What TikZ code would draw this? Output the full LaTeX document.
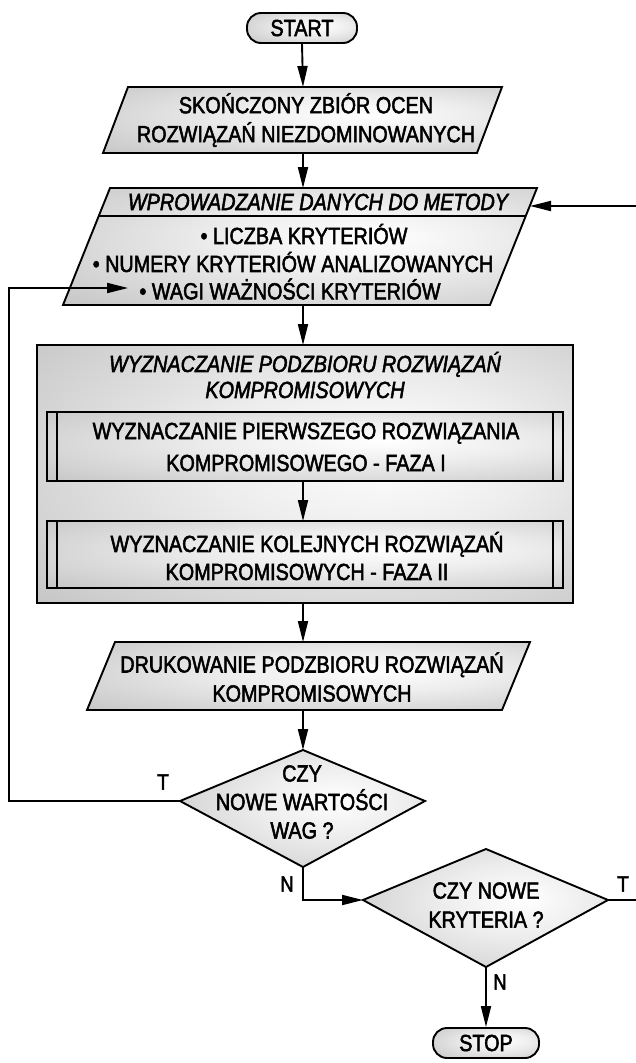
\documentclass[tikz,border=0pt]{standalone}
\usepackage{fontspec}
\setmainfont[FakeStretch=0.85,FakeBold=2.2]{Liberation Sans}
\usetikzlibrary{arrows.meta,calc}
\pgfdeclareradialshading{boxshade}{\pgfpoint{8bp}{4bp}}{color(0bp)=(white); color(15bp)=(white!93!black); color(45bp)=(white!74!black); color(70bp)=(white!66!black)}
\tikzset{
  ln/.style={line width=1.9pt},
  arr/.style={line width=1.9pt, -{Triangle[length=21pt,width=10pt]}},
  shapefill/.style={shading=boxshade, draw=black, line width=1.9pt},
  txt/.style={font=\fontsize{23.3}{29}\selectfont, align=center, inner sep=0pt},
  lbl/.style={font=\fontsize{22}{24}\selectfont, inner sep=0pt},
  term/.style={shapefill, rounded corners=14pt, minimum height=30pt, inner sep=0pt, font=\fontsize{23.3}{28}\selectfont},
}
\begin{document}
\begin{tikzpicture}[x=1pt,y=-1pt]
\useasboundingbox (0,0) rectangle (636,1063);
% START
\node[term, minimum width=110pt] (start) at (302,28) {START};
% para 1
\path[shapefill] (128,87) -- (502,87) -- (477,153) -- (103,153) -- cycle;
\coordinate (p1t) at (303,87);
\coordinate (p1b) at (303,153);
\node[txt] (t1) at (306,120) {SKOŃCZONY ZBIÓR OCEN\\ROZWIĄZAŃ NIEZDOMINOWANYCH};
% para 2
\path[shapefill] (110,188) -- (537,188) -- (490,305) -- (63,305) -- cycle;
\draw[ln] (98.8,216) -- (525.8,216);
\coordinate (p2t) at (303,188);
\coordinate (p2b) at (303,305);
\coordinate (p2r) at (530,206);
\coordinate (loopin) at (128,288);
\node[txt, font=\fontsize{23.3}{29}\selectfont\itshape] (t2h) at (318,202) {WPROWADZANIE DANYCH DO METODY};
\node[txt] (t2a) at (304,234) {• LICZBA KRYTERIÓW};
\node[txt] (t2b) at (293,262) {• NUMERY KRYTERIÓW ANALIZOWANYCH};
\node[txt] (t2c) at (290,289) {• WAGI WAŻNOŚCI KRYTERIÓW};
% big box
\path[shading=boxshade, draw=black, line width=2.6pt] (37,345) rectangle (573,603);
\coordinate (bbt) at (303,345);
\coordinate (bbb) at (303,603);
\node[txt, font=\fontsize{23.3}{26}\selectfont\itshape] (t3) at (305,375) {WYZNACZANIE PODZBIORU ROZWIĄZAŃ\\KOMPROMISOWYCH};
% inner 1
\path[shapefill] (47,412) rectangle (563,481);
\draw[ln] (57,412) -- (57,481) (553,412) -- (553,481);
\coordinate (i1b) at (303,481);
\node[txt, font=\fontsize{23.3}{32}\selectfont] (t4) at (306,447) {WYZNACZANIE PIERWSZEGO ROZWIĄZANIA\\KOMPROMISOWEGO - FAZA I};
% inner 2
\path[shapefill] (47,521) rectangle (563,588);
\draw[ln] (57,521) -- (57,588) (553,521) -- (553,588);
\coordinate (i2t) at (303,521);
\node[txt, font=\fontsize{23.3}{28}\selectfont] (t5) at (307,556) {WYZNACZANIE KOLEJNYCH ROZWIĄZAŃ\\KOMPROMISOWYCH - FAZA II};
% para 3
\path[shapefill] (115,642) -- (530,642) -- (502,710) -- (87,710) -- cycle;
\coordinate (p3t) at (303,642);
\coordinate (p3b) at (303,710);
\node[txt] (t6) at (312,677) {DRUKOWANIE PODZBIORU ROZWIĄZAŃ\\KOMPROMISOWYCH};
% diamond 1
\path[shapefill] (303,750) -- (425,801) -- (303,867) -- (180,801) -- cycle;
\coordinate (d1t) at (303,750);
\coordinate (d1l) at (180,801);
\coordinate (d1b) at (303,867);
\coordinate (lx) at (9,288);
\node[txt, font=\fontsize{23.3}{28.5}\selectfont] (t7) at (302,802) {CZY\\NOWE WARTOŚCI\\WAG ?};
% diamond 2
\path[shapefill] (486,849) -- (608,900) -- (486,967) -- (363,900) -- cycle;
\coordinate (d2l) at (363,900);
\coordinate (d2r) at (608,900);
\coordinate (d2b) at (486,967);
\coordinate (rx) at (642,206);
\node[txt] (t8) at (486,905) {CZY NOWE\\KRYTERIA ?};
% STOP
\node[term, minimum width=106pt] (stop) at (486,1043) {STOP};
% connectors
\draw[arr] (start.south) -- (p1t);
\draw[arr] (p1b) -- (p2t);
\draw[arr] (p2b) -- (bbt);
\draw[arr] (i1b) -- (i2t);
\draw[arr] (bbb) -- (p3t);
\draw[arr] (p3b) -- (d1t);
\draw[arr] (d1l) -- (d1l -| lx) -- (lx) -- (loopin);
\draw[arr] (d1b) |- (d2l);
\draw[arr] (d2r) -- (d2r -| rx) -- (rx) -- (p2r);
\draw[arr] (d2b) -- (stop.north);
% labels
\node[lbl] (lt1) at (163,782) {T};
\node[lbl] (ln1) at (287,884) {N};
\node[lbl] (lt2) at (623,884) {T};
\node[lbl] (ln2) at (500,982) {N};
\end{tikzpicture}
\end{document}
